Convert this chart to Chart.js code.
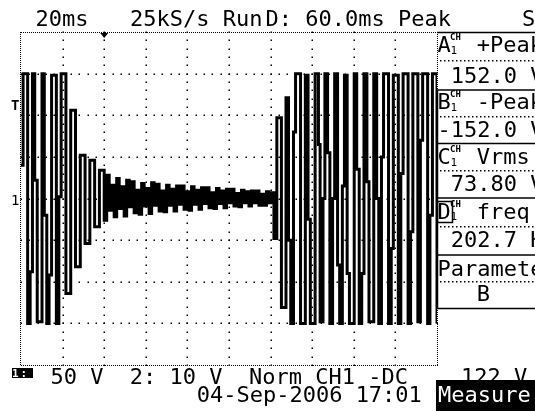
<!DOCTYPE html>
<html><head><meta charset="utf-8">
<script src="https://cdn.jsdelivr.net/npm/chart.js@4.4.0/dist/chart.umd.min.js"></script>
<style>
html,body{margin:0;padding:0;background:#fff;overflow:hidden;width:535px;height:412px;}
#wrap{position:relative;width:535px;height:412px;overflow:hidden;background:#fff;}
canvas{position:absolute;left:0;top:0;}
.t{position:absolute;font-family:"DejaVu Sans Mono",monospace;white-space:pre;color:#000;}
</style></head>
<body><div id="wrap"><canvas id="c" width="535" height="412"></canvas></div>
<script>
// ---- data ----
// time axis: 20 ms/div, 10 div; vertical: 50 V/div, 8 div
const timeMs = [
0, 1.0, 3.2, 4.4, 5.5, 6.6, 7.8, 10.1, 11.2, 12.4, 13.5, 14.7, 17.0, 18.2, 19.3,
21.6, 23.9, 26.2, 28.5, 30.8, 33.1, 35.4, 37.7, 40.0,
41.2, 42.4, 43.6, 44.8, 46.0, 47.2, 48.4, 49.6, 50.8, 52.0,
53.2, 54.4, 55.6, 56.8, 58.0, 59.2, 60.4, 61.6, 62.8, 64.0,
65.2, 66.4, 67.6, 68.8, 70.0, 71.2, 72.4, 73.6, 74.8, 76.0,
77.2, 78.4, 79.6, 80.8, 82.0, 83.2, 84.4, 85.6, 86.8, 88.0,
89.2, 90.4, 91.6, 92.8, 94.0, 95.2, 96.4, 97.6, 98.8, 100.0,
101.2, 102.4, 103.6, 104.8, 106.0, 107.2, 108.4, 109.6, 110.8, 112.0,
113.2, 114.4, 115.6, 116.8, 118.0, 119.2, 120.4,
121.6, 123.0, 125.2, 127.4, 128.6,
129.7, 131.0, 132.0, 134.4, 136.7, 138.0, 139.1, 141.4, 143.0, 143.8,
145.2, 146.1, 147.4, 148.5, 149.8, 150.8, 152.2, 153.2, 154.5, 155.5,
156.8, 157.9, 160.2, 161.4, 162.6, 163.8, 164.9, 166.3, 167.3, 169.6,
171.0, 172.0, 173.3, 174.3, 176.7, 178.0, 179.0, 181.4, 182.6, 183.7,
186.1, 187.3, 188.4, 190.8, 192.0, 193.1, 195.5, 196.6, 197.8, 200.0
];
const ch1Volts = [
40, 150, -150, -88, 150, 22, -148, 150, -20, -150, -92, 148, -150, 2, 150,
-114, 106, -82, 52, -54, 46, -34, 34, -26,
28, -14, 16, -22, 24, -12, 14, -21, 22, -10,
20, -17, 10, -19, 18, -9, 12, -18, 19, -8,
17, -15, 9, -16, 16, -8, 11, -15, 15, -7,
15, -13, 8, -14, 14, -7, 10, -13, 13, -6,
13, -11, 7, -12, 12, -6, 9, -11, 11, -5,
11, -9, 6, -10, 10, -5, 8, -9, 9, -5,
9, -8, 5, -8, 8, -5, 7,
-48, 97, -131, 121, -50,
-150, 80, 150, -150, 148, -25, -150, 150, 65, -148,
0, 150, 55, -150, 0, 150, -80, -150, 15, 148,
-90, -150, 150, 35, -150, -90, 150, 20, -148, 150,
0, -150, 50, 150, -150, -60, 148, -150, 30, 150,
-150, -40, 150, -148, 70, 150, -150, -20, 150, -150
];
const xGridMs = [20, 40, 60, 80, 100, 120, 140, 160, 180];
const yGridV = [150, 100, 50, 0, -50, -100, -150];
const triggerMs = 40;
const measLetters = ['A', 'B', 'C', 'D'];
const measNames = ['+Peak', '-Peak', 'Vrms', 'freq'];
const measValues = [' 152.0 V', '-152.0 V', ' 73.80 V', ' 202.7 Hz'];

// ---- text (DOM) ----
const wrap = document.getElementById('wrap');
function txt(s, x, base, size, extra) {
  const d = document.createElement('div');
  d.className = 't';
  d.textContent = s;
  size = size || 22;
  d.style.fontSize = size + 'px';
  d.style.lineHeight = size + 'px';
  d.style.left = x + 'px';
  d.style.top = (base - 0.846 * size) + 'px';
  if (extra) Object.assign(d.style, extra);
  wrap.appendChild(d);
  return d;
}
// header line
txt('20ms', 35.4, 26.7);
txt('25kS/s Run', 130.1, 26.7);
txt('D: 60.0ms Peak', 265.5, 26.7);
txt('S', 522, 26.7);
// left markers
txt('T', 11, 110, 14, {fontWeight: 'bold'});
txt('1', 11, 205, 14);
// measurement panel
const hdrBase = [53, 110, 165, 219.5];
const valBase = [84, 137.5, 192, 247.5];
for (let i = 0; i < 4; i++) {
  txt(measLetters[i], 437.5, hdrBase[i]);
  txt('CH', 450, hdrBase[i] - 12, 9, {fontWeight: 'bold'});
  txt('1', 450.5, hdrBase[i] + 1, 11);
  txt(measNames[i], 476.7, hdrBase[i]);
  txt(measValues[i], 437.5, valBase[i]);
}
txt('Parameter', 437.5, 276.5);
txt('B', 476.7, 301.5);
// bottom lines
txt('1:', 12, 377, 11, {background: '#000', color: '#fff', width: '21px', height: '10px', letterSpacing: '2px', fontWeight: 'bold'});
txt('50 V  2: 10 V  Norm CH1 -DC    122 V', 50.4, 385);
txt('04-Sep-2006 17:01', 196.7, 403);
const meas = document.createElement('div');
meas.style.cssText = 'position:absolute;left:436px;top:380px;width:110px;height:31px;background:#000;';
wrap.appendChild(meas);
txt('Measure', 438, 403, 22, {color: '#fff'});

// ---- chart ----
const scopePlugin = {
  id: 'scope',
  beforeDatasetsDraw(chart) {
    const {ctx, chartArea: a, scales: {x, y}} = chart;
    ctx.save();
    ctx.fillStyle = '#000';
    const dot = (px, py) => ctx.fillRect(Math.round(px) - 0.5, Math.round(py) - 0.5, 1.5, 1.5);
    xGridMs.forEach(t => {
      const px = x.getPixelForValue(t);
      for (let k = 0; k <= 40; k++) dot(px, a.top + k * a.height / 40);
    });
    yGridV.forEach(v => {
      const py = y.getPixelForValue(v);
      for (let k = 0; k <= 50; k++) dot(a.left + k * a.width / 50, py);
    });
    // dense dotted plot border
    for (let px = a.left; px <= a.right; px += 2) {
      ctx.fillRect(Math.round(px), a.top, 1, 1);
      ctx.fillRect(Math.round(px), a.bottom, 1, 1);
    }
    for (let py = a.top; py <= a.bottom; py += 2) {
      ctx.fillRect(Math.round(a.left) - 1, Math.round(py), 1, 1);
      ctx.fillRect(Math.round(a.right), Math.round(py), 1, 1);
    }
    // trigger position marker
    const tx = x.getPixelForValue(triggerMs);
    ctx.beginPath();
    ctx.moveTo(tx - 4, a.top + 1); ctx.lineTo(tx + 4, a.top + 1); ctx.lineTo(tx, a.top + 6);
    ctx.closePath(); ctx.fill();
    // measurement panel frame
    ctx.strokeStyle = '#000';
    ctx.lineWidth = 1.5;
    [32.5, 90, 143.5, 198, 255, 308.5].forEach(py => {
      ctx.beginPath(); ctx.moveTo(a.right, py); ctx.lineTo(535, py); ctx.stroke();
    });
    ctx.beginPath(); ctx.moveTo(a.right + 0.5, 90); ctx.lineTo(a.right + 0.5, 308.5); ctx.stroke();
    [60, 115.5, 170, 225.5, 280.5].forEach(py => {
      for (let px = a.right + 3; px < 535; px += 4) ctx.fillRect(px, Math.round(py), 1.5, 1.5);
    });
    ctx.strokeRect(437.5, 201.5, 15, 21);
    ctx.restore();
  }
};

new Chart(document.getElementById('c'), {
  type: 'line',
  data: {
    datasets: [{
      label: 'CH1',
      data: timeMs.map((t, i) => ({x: t, y: ch1Volts[i]})),
      borderColor: '#000',
      borderWidth: 3,
      pointRadius: 0,
      stepped: true,
      fill: false
    }]
  },
  options: {
    responsive: false,
    animation: false,
    devicePixelRatio: 1,
    events: [],
    layout: {padding: {left: 21, right: 98, top: 32, bottom: 47}},
    plugins: {legend: {display: false}, tooltip: {enabled: false}},
    scales: {
      x: {type: 'linear', min: 0, max: 200, display: false},
      y: {type: 'linear', min: -200, max: 200, display: false}
    }
  },
  plugins: [scopePlugin]
});
</script>
</body></html>
